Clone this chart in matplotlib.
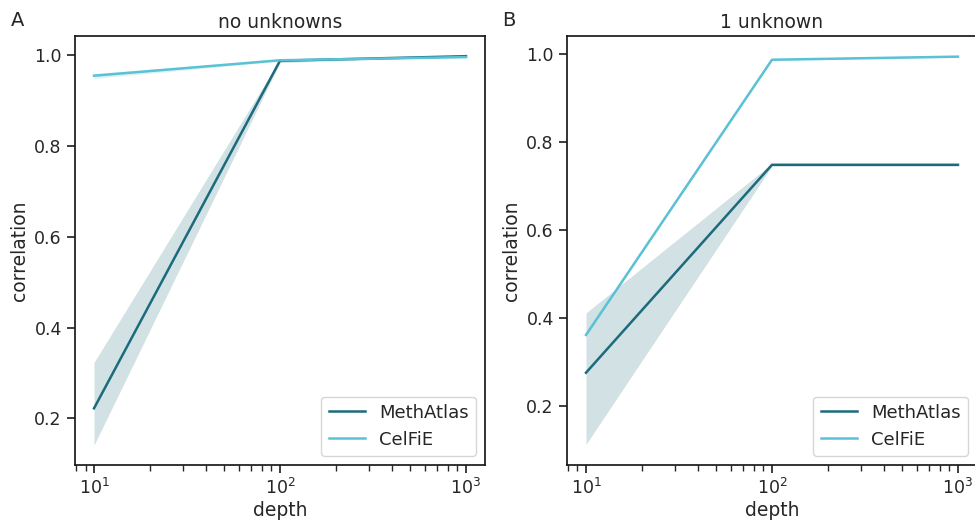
import matplotlib
matplotlib.use("Agg")
import matplotlib.pyplot as plt
import numpy as np

plt.rcParams['font.family'] = ['DejaVu Sans']
plt.rcParams['text.color'] = '.15'
plt.rcParams['axes.labelcolor'] = '.15'
plt.rcParams['xtick.color'] = '.15'
plt.rcParams['ytick.color'] = '.15'
plt.rcParams['axes.edgecolor'] = '.1'

depth = [10, 100, 1000]
methods = ["MethAtlas", "CelFiE"]
colors = {"MethAtlas": "#1c6b7c", "CelFiE": "#5bc1d5"}

# panel A: no unknowns
a_mean = {"MethAtlas": [0.222, 0.988, 0.998], "CelFiE": [0.955, 0.989, 0.996]}
a_lo = {"MethAtlas": [0.141, 0.984, 0.997], "CelFiE": [0.949, 0.987, 0.995]}
a_hi = {"MethAtlas": [0.323, 0.991, 0.999], "CelFiE": [0.960, 0.991, 0.997]}

# panel B: 1 unknown
b_mean = {"MethAtlas": [0.275, 0.748, 0.748], "CelFiE": [0.361, 0.987, 0.994]}
b_lo = {"MethAtlas": [0.112, 0.745, 0.745], "CelFiE": [0.359, 0.985, 0.993]}
b_hi = {"MethAtlas": [0.411, 0.751, 0.751], "CelFiE": [0.363, 0.989, 0.995]}

fig = plt.figure(figsize=(9.75, 5.27), dpi=100)
axA = fig.add_axes([0.0769, 0.1176, 0.4205, 0.8141])
axB = fig.add_axes([0.5815, 0.1176, 0.4205, 0.8141])

panels = [(axA, a_mean, a_lo, a_hi, "no unknowns", "A"),
          (axB, b_mean, b_lo, b_hi, "1 unknown", "B")]

for ax, mean, lo, hi, title, letter in panels:
    for m in methods:
        ax.fill_between(depth, lo[m], hi[m], color=colors[m], alpha=0.2, linewidth=0)
        ax.plot(depth, mean[m], color=colors[m], lw=1.8, label=m)
    ax.set_xscale("log")
    ax.set_xlabel("depth", fontsize=13.5, labelpad=2)
    ax.set_ylabel("correlation", fontsize=13.5)
    ax.set_title(title, fontsize=13.5, pad=6)
    ax.set_yticks([0.2, 0.4, 0.6, 0.8, 1.0])
    ax.tick_params(axis="both", which="major", labelsize=12.5, length=6, width=1.25)
    ax.tick_params(axis="x", which="minor", length=4, width=1.0)
    for s in ax.spines.values():
        s.set_linewidth(1.25)
    ax.legend(loc="lower right", fontsize=13, frameon=True, handlelength=2.0)
    pos = ax.get_position()
    fig.text(pos.x0 - 0.066, 0.962, letter, fontsize=14, va="center", ha="left")

axA.set_ylim(0.097, 1.0425)
axB.set_ylim(0.065, 1.041)
axA.set_xlim(7.9, 1265)
axB.set_xlim(7.9, 1265)

fig.savefig("out.png", dpi=100)
